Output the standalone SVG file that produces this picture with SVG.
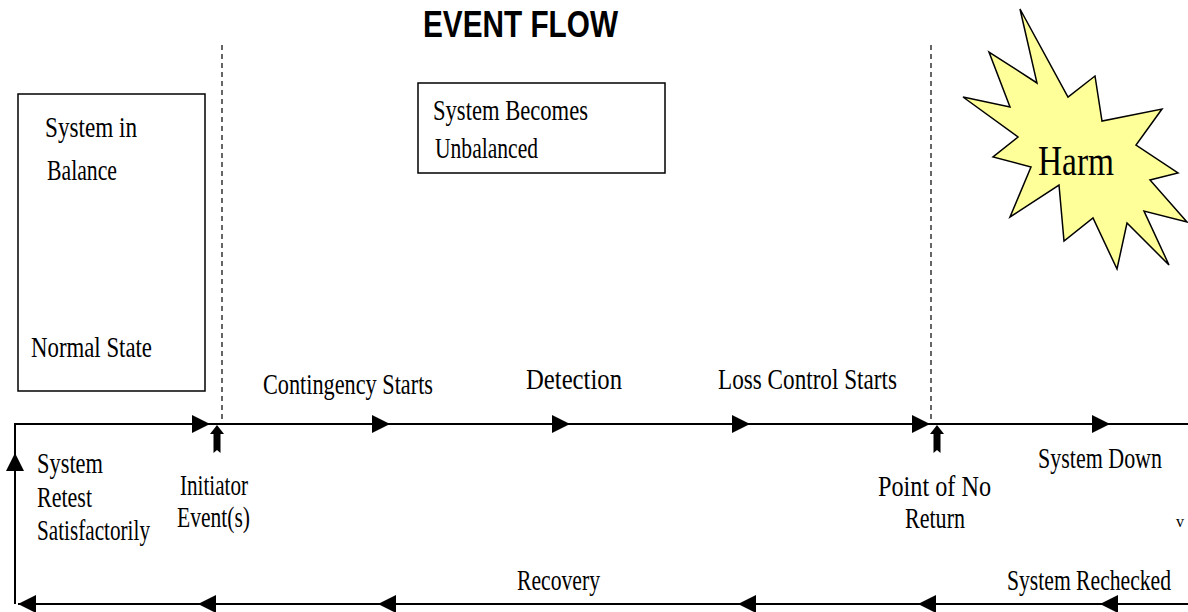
<svg xmlns="http://www.w3.org/2000/svg" width="1188" height="612" viewBox="0 0 1188 612">
<style>
.t{font-family:"Liberation Serif","Times New Roman",serif;font-size:29px;fill:#000}
.ttl{font-family:"Liberation Sans",Arial,sans-serif;font-weight:bold;font-size:37px;fill:#000}
.box{fill:#fff;stroke:#000;stroke-width:1.5}
.ln{fill:none;stroke:#000;stroke-width:2}
.dash{fill:none;stroke:#000;stroke-width:1.2;stroke-dasharray:5 4}
</style>
<defs>
<marker id="ah" markerUnits="userSpaceOnUse" markerWidth="18" markerHeight="18" refX="18" refY="9" orient="auto">
<path d="M0,0 L18,9 L0,18 Z" fill="#000"/>
</marker>
<polygon id="blk" points="0,0 7,9 3.5,9 3.5,28 0,25 -3.5,28 -3.5,9 -7,9" fill="#000"/>
</defs>
<rect width="1188" height="612" fill="#fff"/>

<text class="ttl" x="423" y="37" textLength="195" lengthAdjust="spacingAndGlyphs">EVENT FLOW</text>

<g id="connectors">
<line class="dash" x1="222" y1="45" x2="222" y2="424"/>
<line class="dash" x1="931" y1="45" x2="931" y2="424"/>
<path class="ln" d="M15,424 L210,424 L390,424 L570,424 L750,424 L930,424 L1110,424 L1188,424" marker-mid="url(#ah)"/>
<path class="ln" d="M1188,604 L1100,604 L918,604 L738,604 L378,604 L198,604 L18,604" marker-mid="url(#ah)" marker-end="url(#ah)"/>
<path class="ln" d="M15,604 L15,453 L15,423" marker-mid="url(#ah)"/>
<use href="#blk" x="217" y="425"/>
<use href="#blk" x="937" y="425"/>
</g>

<g id="normal-state">
<rect class="box" x="18" y="94" width="187" height="297"/>
<text class="t" x="45" y="137" textLength="92" lengthAdjust="spacingAndGlyphs">System in</text>
<text class="t" x="47" y="180" textLength="70" lengthAdjust="spacingAndGlyphs">Balance</text>
<text class="t" x="31" y="357" textLength="121" lengthAdjust="spacingAndGlyphs">Normal State</text>
</g>

<g id="unbalanced">
<rect class="box" x="418" y="83" width="247" height="90"/>
<text class="t" x="433" y="120" textLength="155" lengthAdjust="spacingAndGlyphs">System Becomes</text>
<text class="t" x="435" y="158" textLength="103" lengthAdjust="spacingAndGlyphs">Unbalanced</text>
</g>

<g id="harm">
<polygon points="1020,9 1068,97 1095,76 1102,121 1162,109 1136,145 1178,173 1150,180 1187,222 1144,211 1169,265 1127,223 1117,269 1093,218 1064,241 1059,185 1010,217 1031,167 993,157 1018,137 963,97 1010,107 989,52 1037,83" fill="#ffff99" stroke="#000" stroke-width="1.5" stroke-linejoin="miter"/>
<text class="t" x="1038" y="175" style="font-size:43px" textLength="76" lengthAdjust="spacingAndGlyphs">Harm</text>
</g>

<g id="retest">
<text class="t" x="37" y="473" textLength="66" lengthAdjust="spacingAndGlyphs">System</text>
<text class="t" x="37" y="507" textLength="55" lengthAdjust="spacingAndGlyphs">Retest</text>
<text class="t" x="37" y="540" textLength="113" lengthAdjust="spacingAndGlyphs">Satisfactorily</text>
</g>

<g id="initiator">
<text class="t" x="180" y="495" textLength="68" lengthAdjust="spacingAndGlyphs">Initiator</text>
<text class="t" x="177" y="527" textLength="73" lengthAdjust="spacingAndGlyphs">Event(s)</text>
</g>

<g id="contingency"><text class="t" x="263" y="394" textLength="170" lengthAdjust="spacingAndGlyphs">Contingency Starts</text></g>
<g id="detection"><text class="t" x="526" y="389" textLength="96" lengthAdjust="spacingAndGlyphs">Detection</text></g>
<g id="loss-control"><text class="t" x="718" y="389" textLength="179" lengthAdjust="spacingAndGlyphs">Loss Control Starts</text></g>

<g id="no-return">
<text class="t" x="878" y="496" textLength="113" lengthAdjust="spacingAndGlyphs">Point of No</text>
<text class="t" x="905" y="528" textLength="60" lengthAdjust="spacingAndGlyphs">Return</text>
</g>

<g id="system-down"><text class="t" x="1038" y="468" textLength="124" lengthAdjust="spacingAndGlyphs">System Down</text></g>
<g id="rechecked"><text class="t" x="1007" y="590" textLength="164" lengthAdjust="spacingAndGlyphs">System Rechecked</text></g>
<g id="recovery"><text class="t" x="517" y="590" textLength="83" lengthAdjust="spacingAndGlyphs">Recovery</text></g>
<g id="edge-mark"><text class="t" x="1176" y="527" style="font-size:16px">v</text></g>
</svg>
